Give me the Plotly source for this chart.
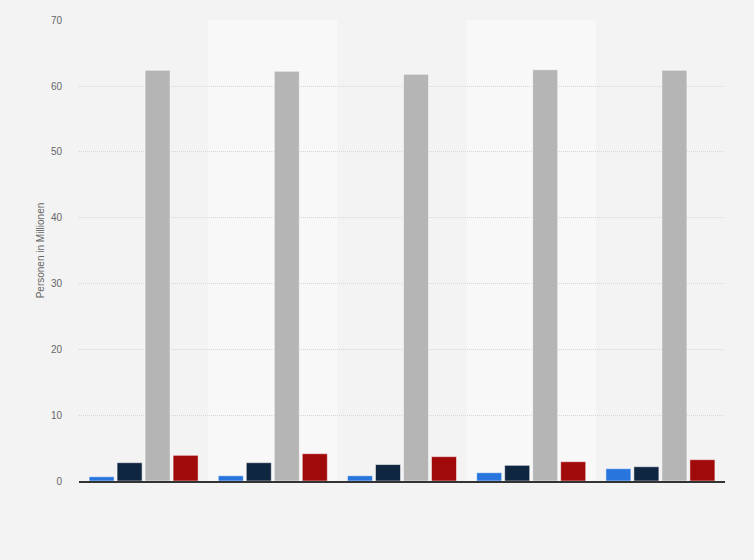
import plotly.graph_objects as go

categories = ["G1", "G2", "G3", "G4", "G5"]
series_names = ["Serie 1", "Serie 2", "Serie 3", "Serie 4"]
s1 = [0.65, 0.8, 0.8, 1.26, 1.87]
s2 = [2.78, 2.78, 2.5, 2.38, 2.17]
s3 = [62.4, 62.25, 61.8, 62.5, 62.4]
s4 = [3.9, 4.15, 3.7, 2.93, 3.24]
colors = ["#2876dd", "#0f2640", "#b5b5b5", "#a10a0a"]

fig = go.Figure()
for name, vals, c in zip(series_names, [s1, s2, s3, s4], colors):
    fig.add_trace(go.Bar(
        x=categories, y=vals, name=name,
        marker=dict(color=c, line=dict(color="rgba(255,255,255,0.5)", width=1)),
    ))

shapes = []
for i in range(len(categories)):
    if i % 2 == 1:
        shapes.append(dict(type="rect", xref="x", yref="paper", x0=i - 0.5, x1=i + 0.5,
                           y0=0, y1=1, fillcolor="#f8f8f8", line=dict(width=0), layer="below"))

fig.update_layout(
    width=754, height=560,
    margin=dict(l=79, r=29, t=20, b=79),
    paper_bgcolor="#f3f3f3",
    plot_bgcolor="#f3f3f3",
    barmode="group",
    bargap=0.133,
    bargroupgap=0.107,
    showlegend=False,
    shapes=shapes,
    font=dict(family="Arial, Liberation Sans, sans-serif", color="#666666", size=10),
    xaxis=dict(showticklabels=False, showgrid=False, showline=True, linecolor="#333333",
               linewidth=1.5, ticks="", range=[-0.5, 4.5], zeroline=False),
    yaxis=dict(range=[0, 70.05], tickvals=[0, 10, 20, 30, 40, 50, 60, 70], showgrid=True,
               gridcolor="#d6d6d6", griddash="1px,1px", gridwidth=1,
               zeroline=False, showline=False, ticks="outside", ticklen=14, tickcolor="rgba(0,0,0,0)",
               tickfont=dict(size=10, color="#666666"),
               title=dict(text="Personen in Millionen", font=dict(size=10, color="#666666"), standoff=4)),
)

fig.write_html("out.html", config={"displayModeBar": False},
               post_script="document.body.style.margin='0';document.body.style.background='#f3f3f3';")
